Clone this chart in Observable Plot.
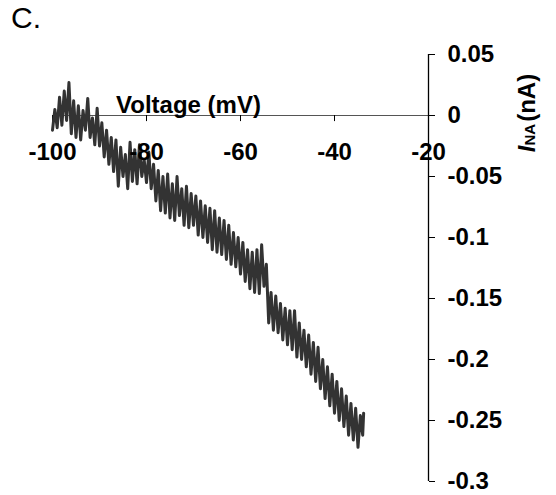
<!DOCTYPE html>
<html>
<head>
<meta charset="utf-8">
<script src="https://cdn.jsdelivr.net/npm/d3@7"></script>
<script src="https://cdn.jsdelivr.net/npm/@observablehq/plot@0.6"></script>
<style>
  body { margin: 0; background: #fff; }
  #wrap { position: relative; width: 556px; height: 495px; }
  #panel { position: absolute; left: 11px; top: 1px; font: 30px Arial, "Liberation Sans", sans-serif; color: #000; z-index: 2; }
</style>
</head>
<body>
<div id="wrap"><div id="panel">C.</div></div>
<script>
const xTicks = [-100, -80, -60, -40, -20];
const yTicks = [0.05, 0, -0.05, -0.1, -0.15, -0.2, -0.25, -0.3];
const xLabel = "Voltage (mV)";

const voltage = [
  -100,-99.5,-99,-98.5,-98,-97.5,-97,-96.5,-96,-95.5,-95,-94.5,-94,-93.5,-93,-92.5,-92,-91.5,-91,-90.5,-90,
  -89.5,-89,-88.5,-88,-87.5,-87,-86.5,-86,-85.5,-85,-84.5,-84,-83.5,-83,-82.5,-82,-81.5,-81,-80.5,-80,-79.5,
  -79,-78.5,-78,-77.5,-77,-76.5,-76,-75.5,-75,-74.5,-74,-73.5,-73,-72.5,-72,-71.5,-71,-70.5,-70,
  -69.5,-69,-68.5,-68,-67.5,-67,-66.5,-66,-65.5,-65,-64.5,-64,-63.5,-63,-62.5,-62,-61.5,-61,-60.5,-60,
  -59.5,-59,-58.5,-58,-57.5,-57,-56.5,-56,-55.5,-55,-54.5,-54,-53.5,-53,-52.5,-52,-51.5,-51,-50.5,-50,
  -49.5,-49,-48.5,-48,-47.5,-47,-46.5,-46,-45.5,-45,-44.5,-44,-43.5,-43,-42.5,-42,-41.5,-41,-40.5,-40,
  -39.5,-39,-38.5,-38,-37.5,-37,-36.5,-36,-35.5,-35,-34.5,-34,-33.8
];
const current = [
  -0.012,0.005,-0.010,0.015,-0.008,0.020,-0.004,0.027,-0.015,0.012,-0.018,0.008,-0.020,0.004,-0.012,0.014,-0.018,-0.002,-0.024,0.006,-0.025,
  -0.006,-0.034,-0.012,-0.040,-0.018,-0.046,-0.020,-0.058,-0.026,-0.050,-0.032,-0.060,-0.022,-0.054,-0.028,-0.056,-0.024,-0.050,-0.036,-0.055,-0.030,
  -0.060,-0.040,-0.070,-0.045,-0.078,-0.050,-0.080,-0.048,-0.084,-0.056,-0.086,-0.050,-0.082,-0.060,-0.090,-0.058,-0.092,-0.064,-0.090,
  -0.066,-0.098,-0.070,-0.100,-0.074,-0.104,-0.076,-0.110,-0.078,-0.112,-0.084,-0.114,-0.086,-0.118,-0.090,-0.122,-0.096,-0.124,-0.100,-0.130,
  -0.104,-0.136,-0.110,-0.142,-0.112,-0.145,-0.110,-0.146,-0.106,-0.140,-0.122,-0.170,-0.145,-0.176,-0.148,-0.178,-0.154,-0.184,-0.158,-0.188,
  -0.160,-0.192,-0.160,-0.198,-0.170,-0.200,-0.176,-0.206,-0.180,-0.212,-0.186,-0.218,-0.190,-0.224,-0.200,-0.232,-0.206,-0.238,-0.212,-0.244,
  -0.218,-0.250,-0.224,-0.255,-0.230,-0.262,-0.236,-0.266,-0.240,-0.272,-0.246,-0.262,-0.244
];

const trace = voltage.map((v, i) => ({v, i: current[i]}));
const font = 'Arial, "Liberation Sans", sans-serif';

const chart = Plot.plot({
  width: 556,
  height: 495,
  marginLeft: 52,
  marginRight: 128,
  marginTop: 54,
  marginBottom: 14,
  style: {fontFamily: font, fontSize: "24px", fontWeight: "bold", color: "#000", background: "transparent"},
  x: {domain: [-100, -20], axis: null},
  y: {domain: [-0.3, 0.05], axis: null},
  marks: [
    Plot.ruleY([0], {stroke: "#555", strokeWidth: 1.2}),
    Plot.ruleX(xTicks.slice(0, 4), {x: d => d, y1: 0, y2: -0.005, stroke: "#000", strokeWidth: 1}),
    Plot.ruleX([-20], {y1: -0.3, y2: 0.05, stroke: "#000", strokeWidth: 1.3}),
    Plot.axisY({anchor: "right", ticks: yTicks, tickSize: 6, tickPadding: 13, tickFormat: d => String(d), label: null, fontSize: 24, fontWeight: "bold"}),
    Plot.line(trace, {x: "v", y: "i", stroke: "#333", strokeWidth: 3, strokeLinejoin: "round", strokeLinecap: "round"}),
    Plot.text(xTicks, {x: d => d, y: 0, dy: 37, text: d => String(d), fontSize: 24, fontWeight: "bold", fill: "#000"}),
    Plot.text([xLabel], {frameAnchor: "top-left", dx: 136, dy: 41, text: d => d, textAnchor: "middle", fontSize: 24, fontWeight: "bold", fill: "#000"})
  ]
});
document.getElementById("wrap").prepend(chart);
chart.style.position = "absolute";
chart.style.left = "0";
chart.style.top = "0";

const svg = d3.select(chart);
const yl = svg.append("text")
  .attr("transform", "translate(527,113) rotate(-90)")
  .attr("text-anchor", "middle")
  .attr("dy", "0.35em")
  .style("font-family", font)
  .style("font-weight", "bold")
  .style("font-size", "24px")
  .attr("fill", "#000");
yl.append("tspan").style("font-style", "italic").text("I");
yl.append("tspan").style("font-size", "15px").text("NA");
yl.append("tspan").attr("dx", 2).text("(nA)");
</script>
</body>
</html>
